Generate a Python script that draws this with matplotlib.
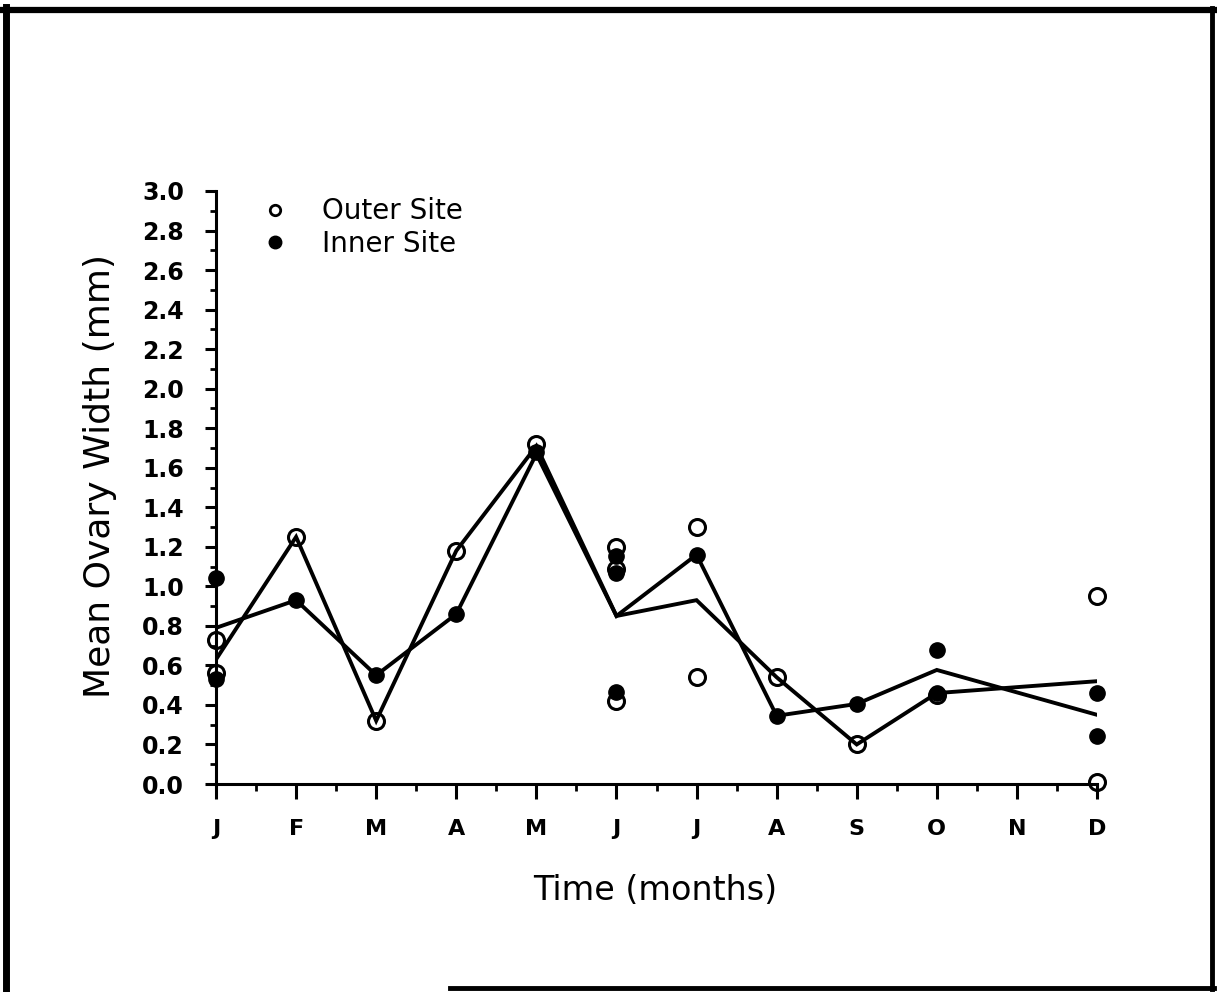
import matplotlib
matplotlib.use("Agg")
import matplotlib.pyplot as plt
from matplotlib.lines import Line2D
from matplotlib.ticker import MultipleLocator, FormatStrFormatter
import numpy as np

plt.rcParams['font.family'] = ['DejaVu Sans']

# ---- data ----
month_labels = ['J', 'F', 'M', 'A', 'M', 'J', 'J', 'A', 'S', 'O', 'N', 'D']

outer_x = [0, 0, 1, 2, 3, 4, 5, 5, 5, 6, 6, 7, 8, 9, 11, 11]
outer_y = [0.73, 0.56, 1.25, 0.32, 1.18, 1.72, 1.20, 1.09, 0.42, 1.30, 0.54, 0.54, 0.20, 0.45, 0.95, 0.01]

inner_x = [0, 0, 1, 2, 3, 4, 5, 5, 5, 6, 7, 8, 9, 9, 11, 11]
inner_y = [1.04, 0.53, 0.93, 0.55, 0.86, 1.68, 1.155, 1.065, 0.465, 1.16, 0.345, 0.405, 0.68, 0.46, 0.46, 0.245]

outer_line_x = [0, 1, 2, 3, 4, 5, 6, 7, 8, 9, 11]
outer_line_y = [0.63, 1.25, 0.32, 1.18, 1.71, 0.85, 0.93, 0.54, 0.20, 0.46, 0.52]

inner_line_x = [0, 1, 2, 3, 4, 5, 6, 7, 8, 9, 11]
inner_line_y = [0.79, 0.93, 0.55, 0.86, 1.67, 0.85, 1.16, 0.345, 0.405, 0.577, 0.35]

legend_labels = ['Outer Site', 'Inner Site']

# ---- figure ----
W, H = 1217, 992
fig = plt.figure(figsize=(W / 100, H / 100), dpi=100)

x0, x1 = 216, 1097
y0, y1 = 784, 191
ax = fig.add_axes([x0 / W, 1 - y0 / H, (x1 - x0) / W, (y0 - y1) / H])

ax.plot(outer_line_x, outer_line_y, color='black', lw=2.8, solid_joinstyle='miter', zorder=2)
ax.plot(inner_line_x, inner_line_y, color='black', lw=2.8, solid_joinstyle='miter', zorder=2)
ax.plot(outer_x, outer_y, linestyle='none', marker='o', ms=11.5, mfc='none',
        mec='black', mew=2.2, zorder=3, clip_on=False)
ax.plot(inner_x, inner_y, linestyle='none', marker='o', ms=11.0, mfc='black',
        mec='black', mew=1.0, zorder=3, clip_on=False)

ax.set_xlim(0, 11)
ax.set_ylim(0, 3.0)
ax.set_xticks(range(12))
ax.set_xticklabels(month_labels, fontsize=16, fontweight='bold')
ax.xaxis.set_minor_locator(MultipleLocator(0.5))
ax.yaxis.set_major_locator(MultipleLocator(0.2))
ax.yaxis.set_minor_locator(MultipleLocator(0.1))
ax.yaxis.set_major_formatter(FormatStrFormatter('%.1f'))
for lab in ax.get_yticklabels():
    lab.set_fontsize(17)
    lab.set_fontweight('bold')

for s in ['top', 'right']:
    ax.spines[s].set_visible(False)
for s in ['left', 'bottom']:
    ax.spines[s].set_linewidth(2.2)

ax.tick_params(axis='x', which='major', direction='out', length=11, width=2.2, pad=14)
ax.tick_params(axis='x', which='minor', direction='out', length=5, width=2.0)
ax.tick_params(axis='y', which='major', direction='out', length=8, width=2.2, pad=15)
ax.tick_params(axis='y', which='minor', direction='out', length=4, width=2.0)

ax.set_xlabel('Time (months)', fontsize=24)
ax.set_ylabel('Mean Ovary Width (mm)', fontsize=26)
ax.xaxis.set_label_coords(0.498, -0.152)
ax.yaxis.set_label_coords(-0.112, 0.52)

handles = [
    Line2D([], [], linestyle='none', marker='o', ms=7.5, mfc='none', mec='black', mew=2.0),
    Line2D([], [], linestyle='none', marker='o', ms=9, mfc='black', mec='black'),
]
ax.legend(handles, legend_labels, loc='upper left', bbox_to_anchor=(0.0386, 1.008),
          frameon=False, fontsize=20, handlelength=1.0, handletextpad=1.2,
          labelspacing=0.15, borderaxespad=0)

# figure border
fig.add_artist(Line2D([6 / W, 6 / W], [1 - 7 / H, 1 - 989 / H], color='black', lw=5.0))
fig.add_artist(Line2D([3 / W, 1214 / W], [1 - 10 / H, 1 - 10 / H], color='black', lw=4.5))
fig.add_artist(Line2D([1212 / W, 1212 / W], [1 - 8 / H, 1 - 989 / H], color='black', lw=3.5))
fig.add_artist(Line2D([450 / W, 1214 / W], [1 - 988 / H, 1 - 988 / H], color='black', lw=3.5))

fig.savefig('out.png', dpi=100)
